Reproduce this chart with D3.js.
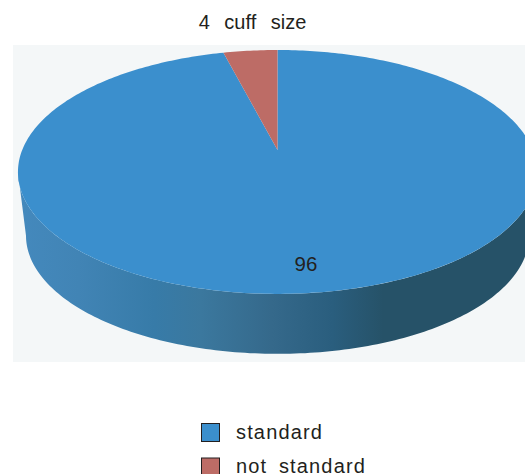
<!DOCTYPE html>
<html>
<head>
<meta charset="utf-8">
<script src="https://cdn.jsdelivr.net/npm/d3@7"></script>
<style>
  html, body { margin: 0; padding: 0; background: #fff; overflow: hidden; }
  svg { display: block; }
  text { font-family: "Liberation Sans", Arial, sans-serif; fill: #231f20; }
</style>
</head>
<body>
<script>
const categories = ["standard", "not standard"];
const values = [96, 4];
const title = "4 cuff size";

const colors = ["#3b8fcd", "#bd6c66"];

const width = 525;
const height = 474;

const svg = d3.select("body").append("svg")
  .attr("width", width)
  .attr("height", height);

// side wall shading runs left to right
const grad = svg.append("defs").append("linearGradient")
  .attr("id", "wall")
  .attr("gradientUnits", "userSpaceOnUse")
  .attr("x1", 18).attr("x2", 525).attr("y1", 0).attr("y2", 0);
[
  [0, "#4489bd"],
  [0.12, "#4184b5"],
  [0.27, "#377ba8"],
  [0.36, "#3b789e"],
  [0.5, "#35698b"],
  [0.62, "#2a5e7e"],
  [0.72, "#265268"],
  [1, "#265268"]
].forEach(([o, c]) => grad.append("stop").attr("offset", o).attr("stop-color", c));

svg.append("rect")
  .attr("x", 13).attr("y", 45)
  .attr("width", 512).attr("height", 317)
  .attr("fill", "#f4f7f8");

// tilted disc: perspective projection of the unit circle
const cx = 277.5;
const persp = 0.18;
const project = (a, y0, s) => {
  const u = Math.sin(a), v = -Math.cos(a);
  const w = 1 - persp * v;
  return [cx + s * 255.3 * u / w, y0 + s * 118 * v / w];
};
const topY = 150;
const bottomY = 214.4;
const bottomS = 0.969;

const line = d3.line();
const ring = (a0, a1, y0, s) => {
  const n = Math.max(2, Math.ceil((a1 - a0) * 60));
  return d3.range(n + 1).map(i => project(a0 + (a1 - a0) * i / n, y0, s));
};

const pie = d3.pie().sort(null).value(d => d);
const arcs = pie(values);

// side wall, between the widest points of the two discs
const widest = Math.PI / 2 + Math.asin(persp);
const upper = ring(widest, 2 * Math.PI - widest, topY, 1);
const lower = ring(widest, 2 * Math.PI - widest, bottomY, bottomS).reverse();
svg.append("path")
  .attr("d", line(upper.concat(lower)) + "Z")
  .attr("fill", "url(#wall)");

// top face
svg.append("g").selectAll("path")
  .data(arcs)
  .join("path")
  .attr("d", d => line([[cx, topY]].concat(ring(d.startAngle, d.endAngle, topY, 1))) + "Z")
  .attr("fill", (d, i) => colors[i]);

svg.append("text")
  .attr("x", 306).attr("y", 271)
  .attr("text-anchor", "middle")
  .attr("font-size", 20.5)
  .text(values[0]);

svg.append("text")
  .attr("x", 252.5).attr("y", 28.5)
  .attr("text-anchor", "middle")
  .attr("font-size", 20)
  .attr("word-spacing", 9)
  .text(title);

// legend
const legend = svg.append("g").selectAll("g")
  .data(categories)
  .join("g")
  .attr("transform", (d, i) => `translate(201,${423 + i * 34.5})`);

legend.append("rect")
  .attr("x", 0.5).attr("y", 0.5)
  .attr("width", 18).attr("height", 18)
  .attr("fill", (d, i) => colors[i])
  .attr("stroke", "#231f20");

legend.append("text")
  .attr("x", 35).attr("y", 15.7)
  .attr("font-size", 20)
  .attr("letter-spacing", 1.15)
  .attr("word-spacing", 5)
  .text(d => d);
</script>
</body>
</html>
